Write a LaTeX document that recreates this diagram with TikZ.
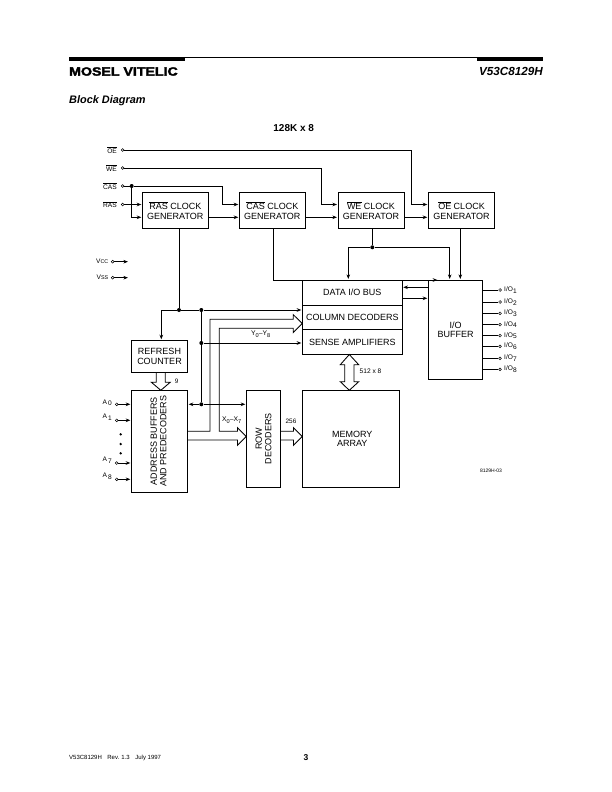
\documentclass[tikz,border=0pt]{standalone}
\usepackage{fontspec}
\setmainfont{Liberation Sans}
\newfontfamily\logofont[FakeBold=2.4,FakeStretch=1.18]{Liberation Sans Bold}
\usetikzlibrary{arrows.meta,positioning}

\newcommand{\ovl}[1]{\(\overline{\hbox{#1}}\)}
\newcommand{\sbs}[1]{\raisebox{-1.6pt}{#1}}

\tikzset{
    block/.style={draw,line width=0.85pt,inner sep=0pt,outer sep=0pt,align=center,
        font=\fontsize{9}{9.5}\selectfont},
    clockbox/.style={block,minimum width=66pt,minimum height=35.6pt},
    stackbox/.style={block,minimum width=100pt},
    blocktext/.style={inner sep=0pt,align=center,font=\fontsize{9}{9.3}\selectfont},
    sig/.style={line width=0.85pt,-{Stealth[length=4.6pt,width=3.6pt]},shorten >=1pt},
    wire/.style={line width=0.85pt},
    pin/.style={draw,circle,line width=0.5pt,fill=white,minimum size=2.8pt,inner sep=0pt},
    dot/.style={fill,circle,minimum size=4pt,inner sep=0pt},
    pinlabel/.style={inner sep=0pt,font=\fontsize{6.6}{7}\selectfont},
}

\begin{document}
\begin{tikzpicture}[x=1pt,y=-1pt]
    \useasboundingbox (0,0) rectangle (612,792);

    % page header and footer
    \coordinate (headl) at (69,57.5);
    \coordinate (headr) at (543,57.5);
    \draw[line width=0.7pt] (headl) -- (headr);
    \fill (69,57.5) rectangle (185,61);
    \fill (477,57.5) rectangle (543,61);
    \node[anchor=west,inner sep=0pt,font=\logofont\fontsize{12}{14}\selectfont] (logo) at (69,71.5) {MOSEL VITELIC};
    \node[anchor=east,inner sep=0pt,font=\fontsize{11.7}{12}\selectfont\bfseries\itshape] (partno) at (543,71.5) {V53C8129H};
    \node[anchor=west,inner sep=0pt,font=\fontsize{10.9}{11}\selectfont\bfseries\itshape] (title) at (69,100.5) {Block Diagram};
    \node[inner sep=0pt,font=\fontsize{10}{10}\selectfont\bfseries] (org) at (293.7,128.5) {128K x 8};
    \node[anchor=west,inner sep=0pt,font=\fontsize{6}{6}\selectfont] (foot) at (69,758) {V53C8129H\hspace{5.5pt}Rev. 1.3\hspace{5.5pt}July 1997};
    \node[inner sep=0pt,font=\fontsize{8.5}{9}\selectfont\bfseries] (pageno) at (306,757.5) {3};
    \node[inner sep=0pt,font=\fontsize{5}{5}\selectfont] (figno) at (491,471) {8129H-03};

    % clock generators
    \node[clockbox] (rasck) at (175.3,210.5) {\ovl{RAS} CLOCK\\GENERATOR};
    \node[clockbox] (casck) at (272.3,210.5) {\ovl{CAS} CLOCK\\GENERATOR};
    \node[clockbox] (weck) at (371,210.5) {\ovl{WE} CLOCK\\GENERATOR};
    \node[clockbox] (oeck) at (461.5,210.5) {\ovl{OE} CLOCK\\GENERATOR};

    % core blocks
    \node[stackbox,minimum height=25pt] (databus) at (352.3,292.5) {DATA I/O BUS};
    \node[stackbox,minimum height=24.7pt] (coldec) at (352.3,317.35) {COLUMN DECODERS};
    \node[stackbox,minimum height=24.6pt] (sense) at (352.3,342) {SENSE AMPLIFIERS};
    \node[block,minimum width=54.4pt,minimum height=99.3pt] (iobuf) at (455.5,329.65) {I/O\\BUFFER};
    \node[block,minimum width=97pt,minimum height=97.4pt] (memory) at (350.8,439) {\hspace*{3pt}MEMORY\\\hspace*{3pt}ARRAY};
    \node[block,minimum width=56.4pt,minimum height=32pt] (refresh) at (159.5,356.3) {REFRESH\\COUNTER};
    \node[block,minimum width=56.4pt,minimum height=102pt] (addr) at (159.5,441.3) {};
    \node[blocktext,rotate=90] (addrtext) at (158.5,441.3) {ADDRESS BUFFERS\\AND PREDECODERS};
    \node[block,minimum width=34.4pt,minimum height=97pt] (row) at (263.5,438.8) {};
    \node[blocktext,rotate=90] (rowtext) at (263.5,438.8) {ROW\\DECODERS};

    % control pins
    \node[pin] (oepin) at (122.7,150) {};
    \node[pin] (wepin) at (122.7,168) {};
    \node[pin] (caspin) at (122.7,186) {};
    \node[pin] (raspin) at (122.7,204.5) {};
    \node[pinlabel,anchor=east] (oelbl) at (117,150) {\ovl{OE}};
    \node[pinlabel,anchor=east] (welbl) at (117,168) {\ovl{WE}};
    \node[pinlabel,anchor=east] (caslbl) at (117,186) {\ovl{CAS}};
    \node[pinlabel,anchor=east] (raslbl) at (117,204.5) {\ovl{RAS}};
    \node[dot] (casdot) at (131.7,186) {};

    \coordinate (rasin) at (142.3,204.5);
    \coordinate (rasin2) at (142.3,217.3);
    \coordinate (casin) at (239.3,204.5);
    \coordinate (casin2) at (239.3,217.3);
    \coordinate (wein) at (338,204.5);
    \coordinate (wein2) at (338,217.3);
    \coordinate (oein) at (428.3,204.5);
    \coordinate (oein2) at (428.3,217.3);
    \coordinate (rasout) at (208.3,217.3);
    \coordinate (casout) at (305.3,217.3);
    \coordinate (weout) at (404,217.3);

    \draw[sig] (raspin) -- (rasin);
    \draw[sig] (casdot) |- (rasin2);
    \draw[sig] (caspin) -- (casdot) -- (222.3,186) |- (casin);
    \draw[sig] (wepin) -- (321.3,168) |- (wein);
    \draw[sig] (oepin) -- (411.7,150) |- (oein);
    \draw[sig] (rasout) -- (casin2);
    \draw[sig] (casout) -- (wein2);
    \draw[sig] (weout) -- (oein2);

    % supply pins
    \node[pin] (vccpin) at (112.7,261.7) {};
    \node[pin] (vsspin) at (112.7,277.7) {};
    \node[pinlabel,anchor=east] (vcclbl) at (108.5,261.7) {V{\fontsize{5.4}{6}\selectfont CC}};
    \node[pinlabel,anchor=east] (vsslbl) at (108.5,277.7) {V{\fontsize{5.4}{6}\selectfont SS}};
    \coordinate (vccend) at (129,261.7);
    \coordinate (vssend) at (129,277.7);
    \draw[sig] (vccpin) -- (vccend);
    \draw[sig] (vsspin) -- (vssend);

    % clock outputs down to the data path
    \node[dot] (wedot) at (372.3,247.3) {};
    \coordinate (wetop) at (372.3,228.3);
    \coordinate (busin) at (348.3,280);
    \coordinate (iotopa) at (438.3,280);
    \coordinate (iotopb) at (449.7,280);
    \coordinate (iotopc) at (460.3,280);
    \coordinate (castop) at (273.3,228.3);
    \coordinate (oetop) at (460.3,228.3);
    \draw[wire] (wetop) -- (wedot);
    \draw[sig] (wedot) -| (busin);
    \draw[sig] (wedot) -| (iotopb);
    \draw[sig] (castop) |- (iotopa);
    \draw[sig] (oetop) -- (iotopc);

    % data bus to I/O buffer
    \coordinate (bufl1) at (428.3,287.3);
    \coordinate (bufl2) at (428.3,298.3);
    \coordinate (busr1) at (402.3,287.3);
    \coordinate (busr2) at (402.3,298.3);
    \draw[sig] (bufl1) -- (busr1);
    \draw[sig] (busr2) -- (bufl2);

    % I/O pins
    \foreach \n/\y in {1/290,2/302,3/313.3,4/324.7,5/335.7,6/346.3,7/358.3,8/369.3} {
        \node[pin] (iopin\n) at (500,\y) {};
        \node[pinlabel,anchor=west] (iolbl\n) at (504,\y) {I/O\sbs{\n}};
        \draw[wire] (iobuf.east |- iopin\n) -- (iopin\n);
    }

    % refresh and address wiring
    \node[dot] (rasdot) at (179,310) {};
    \node[dot] (adrdot) at (201.3,310) {};
    \node[dot] (ydot) at (201.3,343) {};
    \node[dot] (xdot) at (201.3,404.3) {};
    \coordinate (rastop) at (179,228.3);
    \coordinate (refturn) at (161.3,310);
    \coordinate (refin) at (161.3,340.3);
    \coordinate (busin2) at (302.3,310);
    \coordinate (sensein) at (302.3,343);
    \coordinate (addrout) at (187.7,404.3);
    \coordinate (rowin) at (246.3,404.3);
    \draw[wire] (rastop) -- (rasdot);
    \draw[sig] (rasdot) -- (refturn) -- (refin);
    \draw[sig] (rasdot) -- (adrdot) -- (busin2);
    \draw[wire] (adrdot) -- (ydot) -- (xdot);
    \draw[sig] (ydot) -- (sensein);
    \draw[sig] (xdot) -- (addrout);
    \draw[sig] (xdot) -- (rowin);

    % address pins
    \foreach \n/\y/\dy in {0/404.3/-1.5,1/420.3/-3,7/463/-2.5,8/479.3/-3} {
        \node[pin] (apin\n) at (116.7,\y) {};
        \node[pinlabel,anchor=west] (albl\n) at (102.3,\y+\dy) {A\,\sbs{\n}};
        \draw[sig] (apin\n) -- (addr.west |- apin\n);
    }
    \node[dot,minimum size=2.6pt] (adots1) at (120.7,434.3) {};
    \node[dot,minimum size=2.6pt] (adots2) at (120.7,444) {};
    \node[dot,minimum size=2.6pt] (adots3) at (120.7,453.3) {};

    % wide buses
    \coordinate (coltip) at (302.3,323.5);
    \coordinate (rowtip) at (246.3,436.5);
    \coordinate (cnttip) at (160.8,390.3);
    \coordinate (memtip) at (302.3,436.5);
    \coordinate (sensetip) at (349.3,354.5);
    \coordinate (arraytip) at (349.3,390.3);
    \draw[wire] (187.7,431.3) -- (210,431.3) -- (210,319.3) -- (293.3,319.3) -- (293.3,314.7) -- (coltip)
        -- (293.3,332.5) -- (293.3,328.3) -- (219.3,328.3) -- (219.3,431.3) -- (237.5,431.3) -- (237.5,427.7)
        -- (rowtip) -- (237.5,445.3) -- (237.5,440) -- (187.7,440);
    \draw[wire] (156.3,372.3) -- (156.3,382.3) -- (151.4,382.3) -- (cnttip) -- (170.2,382.3) -- (165.3,382.3) -- (165.3,372.3);
    \draw[wire] (280.7,431.3) -- (293.5,431.3) -- (293.5,427.7) -- (memtip) -- (293.5,445.3) -- (293.5,440) -- (280.7,440);
    \draw[wire] (sensetip) -- (358.7,364.7) -- (354,364.7) -- (354,381.7) -- (358.7,381.7) -- (arraytip)
        -- (340.3,381.7) -- (344.7,381.7) -- (344.7,364.7) -- (340.3,364.7) -- cycle;

    % bus labels
    \node[pinlabel,font=\fontsize{6.8}{7}\selectfont] (ylbl) at (260.7,334) {Y\sbs{\fontsize{5.6}{6}\selectfont 0}--Y\sbs{\fontsize{5.6}{6}\selectfont 8}};
    \node[pinlabel,font=\fontsize{6.8}{7}\selectfont] (xlbl) at (231.7,420) {X\sbs{\fontsize{5.6}{6}\selectfont 0}--X\sbs{\fontsize{5.6}{6}\selectfont 7}};
    \node[pinlabel,font=\fontsize{6.4}{7}\selectfont] (widthr) at (291,421) {256};
    \node[pinlabel,font=\fontsize{6.4}{7}\selectfont] (widthc) at (176.7,381) {9};
    \node[pinlabel] (widthm) at (370.5,371.3) {512 x 8};
\end{tikzpicture}
\end{document}
